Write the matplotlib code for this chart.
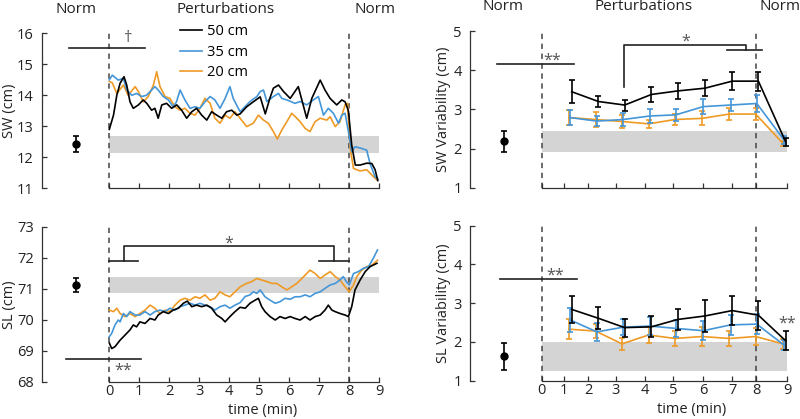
import matplotlib
matplotlib.use("Agg")
import matplotlib.pyplot as plt
import matplotlib.transforms as mtransforms

plt.rcParams['font.family'] = ['Open Sans', 'DejaVu Sans']

# ---------------- data ----------------
labels = ["50 cm", "35 cm", "20 cm"]
colors = ["#000000", "#4496D8", "#EE9A25"]

# SW time series (cm) vs time (min)
sw50_t = [0.0, 0.14, 0.25, 0.36, 0.49, 0.58, 0.69, 0.8, 0.97, 1.13, 1.25, 1.41, 1.52, 1.63, 1.75, 1.91, 2.08, 2.25,
          2.41, 2.58, 2.75, 2.91, 3.08, 3.25, 3.41, 3.58, 3.75, 3.91, 4.08, 4.25, 4.36, 4.58, 4.8, 5.03, 5.2, 5.35,
          5.47, 5.64, 5.81, 6.03, 6.3, 6.58, 6.75, 7.03, 7.19, 7.36, 7.58, 7.75, 7.86, 7.97, 8.08, 8.2, 8.36, 8.58,
          8.75, 8.86, 8.95]
sw50_v = [12.9, 13.36, 14.0, 14.39, 14.6, 14.33, 13.79, 13.58, 13.69, 13.85, 13.74, 13.52, 13.58, 13.26, 13.69,
          13.74, 13.58, 13.69, 13.52, 13.26, 13.47, 13.58, 13.36, 13.2, 13.47, 13.36, 13.26, 13.47, 13.52, 13.36,
          13.4, 13.63, 13.79, 13.95, 13.4, 13.9, 14.23, 14.33, 14.12, 13.9, 14.28, 13.26, 13.9, 14.49, 14.17, 13.9,
          13.69, 13.85, 13.79, 13.5, 12.4, 11.75, 11.75, 11.81, 11.8, 11.6, 11.25]
sw35_t = [0.0, 0.1, 0.3, 0.47, 0.58, 0.75, 0.91, 1.08, 1.24, 1.41, 1.52, 1.63, 1.8, 1.97, 2.13, 2.24, 2.36, 2.52,
          2.69, 2.86, 3.02, 3.19, 3.36, 3.52, 3.69, 3.86, 4.02, 4.13, 4.3, 4.36, 4.69, 4.92, 5.03, 5.14, 5.25, 5.47,
          5.64, 5.75, 5.92, 6.19, 6.36, 6.58, 6.8, 6.97, 7.14, 7.3, 7.47, 7.64, 7.75, 7.86, 7.97, 8.08, 8.19, 8.36,
          8.58, 8.69, 8.86, 8.95]
sw35_v = [14.5, 14.65, 14.49, 14.55, 14.17, 14.0, 14.06, 13.96, 14.0, 14.17, 14.28, 14.17, 13.96, 13.85, 13.63,
          13.79, 14.17, 13.85, 13.58, 13.63, 13.58, 13.79, 13.96, 13.85, 13.58, 13.9, 14.28, 13.9, 13.58, 13.47,
          13.8, 13.96, 14.12, 14.17, 13.8, 13.96, 14.06, 13.9, 13.85, 13.74, 13.8, 13.69, 13.85, 13.96, 13.36,
          13.58, 13.42, 13.1, 13.36, 13.42, 12.83, 12.18, 12.34, 12.3, 12.23, 11.8, 11.37, 11.3]
sw20_t = [0.0, 0.1, 0.25, 0.47, 0.63, 0.86, 0.97, 1.13, 1.3, 1.47, 1.58, 1.69, 1.86, 2.02, 2.19, 2.36, 2.52, 2.69,
          2.86, 3.02, 3.19, 3.36, 3.52, 3.69, 3.86, 4.02, 4.19, 4.36, 4.58, 4.8, 4.97, 5.14, 5.3, 5.47, 5.6, 5.75,
          5.92, 6.08, 6.2, 6.36, 6.53, 6.69, 6.86, 7.03, 7.25, 7.36, 7.53, 7.69, 7.86, 7.94, 8.03, 8.14, 8.36, 8.58,
          8.75, 8.92]
sw20_v = [14.45, 14.4, 14.06, 14.33, 14.0, 14.28, 14.12, 13.79, 13.96, 14.33, 14.76, 14.28, 13.96, 13.9, 13.63,
          13.52, 13.58, 13.42, 13.36, 13.58, 13.9, 13.74, 13.26, 13.1, 13.36, 13.26, 13.47, 13.26, 12.99, 13.1,
          13.36, 13.2, 13.1, 12.83, 12.59, 12.88, 13.15, 13.42, 13.31, 13.15, 12.93, 12.83, 13.15, 13.26, 13.2,
          13.31, 12.99, 13.15, 13.69, 13.74, 12.29, 11.64, 11.56, 11.6, 11.43, 11.27]

# SL time series (cm)
sl50_t = [0.0, 0.08, 0.19, 0.36, 0.52, 0.69, 0.8, 0.91, 1.02, 1.19, 1.36, 1.52, 1.63, 1.8, 1.97, 2.13, 2.3, 2.47,
          2.6, 2.75, 2.91, 3.08, 3.25, 3.41, 3.58, 3.75, 3.86, 4.02, 4.19, 4.36, 4.53, 4.69, 4.86, 4.97, 5.08, 5.19,
          5.36, 5.53, 5.69, 5.86, 6.03, 6.19, 6.36, 6.53, 6.69, 6.86, 7.03, 7.19, 7.3, 7.42, 7.53, 7.69, 7.86, 7.97,
          8.08, 8.19, 8.36, 8.53, 8.69, 8.92]
sl50_v = [69.25, 69.07, 69.13, 69.34, 69.5, 69.67, 69.83, 69.77, 69.93, 69.88, 70.04, 69.99, 70.15, 70.26, 70.2,
          70.31, 70.37, 70.53, 70.6, 70.42, 70.47, 70.42, 70.47, 70.37, 70.15, 70.04, 69.93, 70.1, 70.26, 70.4,
          70.37, 70.53, 70.63, 70.69, 70.42, 70.26, 70.1, 69.99, 70.1, 70.04, 70.1, 70.04, 69.99, 70.1, 69.99, 70.1,
          70.15, 70.31, 70.47, 70.31, 70.26, 70.2, 70.15, 70.1, 70.42, 70.96, 71.28, 71.55, 71.71, 71.82]
sl35_t = [0.0, 0.08, 0.19, 0.3, 0.36, 0.47, 0.58, 0.69, 0.86, 1.02, 1.19, 1.36, 1.52, 1.69, 1.86, 2.02, 2.19, 2.36,
          2.52, 2.69, 2.86, 3.02, 3.19, 3.36, 3.52, 3.69, 3.86, 4.02, 4.19, 4.36, 4.53, 4.69, 4.8, 4.92, 5.03, 5.19,
          5.36, 5.53, 5.69, 5.86, 6.03, 6.19, 6.36, 6.53, 6.69, 6.86, 7.03, 7.19, 7.36, 7.53, 7.69, 7.8, 7.9, 8.0,
          8.14, 8.3, 8.47, 8.64, 8.8, 8.94]
sl35_v = [69.45, 69.56, 69.83, 69.99, 69.93, 70.2, 70.1, 70.26, 70.15, 70.15, 70.26, 70.15, 70.26, 70.31, 70.26,
          70.37, 70.31, 70.42, 70.47, 70.53, 70.47, 70.53, 70.47, 70.42, 70.31, 70.42, 70.47, 70.37, 70.47, 70.55,
          70.75, 70.8, 70.9, 70.85, 70.96, 70.74, 70.63, 70.53, 70.58, 70.69, 70.66, 70.74, 70.74, 70.8, 70.74,
          70.85, 70.9, 71.01, 71.12, 71.17, 71.28, 71.39, 71.23, 71.12, 71.49, 71.55, 71.66, 71.71, 71.98, 72.25]
sl20_t = [0.0, 0.14, 0.25, 0.36, 0.52, 0.69, 0.86, 1.02, 1.19, 1.36, 1.52, 1.69, 1.86, 2.02, 2.19, 2.36, 2.52, 2.69,
          2.86, 3.02, 3.19, 3.36, 3.52, 3.69, 3.86, 4.02, 4.19, 4.36, 4.58, 4.75, 4.92, 5.08, 5.25, 5.42, 5.58, 5.75,
          5.92, 6.08, 6.25, 6.42, 6.58, 6.69, 6.86, 7.03, 7.19, 7.36, 7.53, 7.69, 7.86, 8.0, 8.14, 8.25, 8.42, 8.58,
          8.75, 8.94]
sl20_v = [70.31, 70.26, 70.37, 70.2, 70.1, 70.2, 70.1, 70.2, 70.31, 70.47, 70.37, 70.2, 70.31, 70.26, 70.47, 70.63,
          70.69, 70.63, 70.74, 70.69, 70.8, 70.63, 70.69, 70.9, 70.8, 70.74, 70.9, 71.06, 71.17, 71.23, 71.33, 71.28,
          71.23, 71.17, 71.17, 71.06, 70.96, 71.06, 71.17, 71.33, 71.49, 71.6, 71.49, 71.33, 71.44, 71.55, 71.39,
          71.28, 71.06, 70.9, 71.12, 71.39, 71.6, 71.71, 71.76, 71.92]

# Norm walking (mean, error) and normative bands
norm_sw = (12.43, 0.25)
norm_sl = (71.12, 0.22)
band_sw = (12.15, 12.69)
band_sl = (70.87, 71.37)

# Variability (bins along time axis)
var_x = [1.04, 2.02, 2.98, 3.96, 4.92, 5.92, 6.92, 7.88, 8.88]
swv50 = [3.45, 3.2, 3.11, 3.38, 3.47, 3.54, 3.72, 3.72, 2.17]
swv50_e = [0.3, 0.13, 0.14, 0.19, 0.2, 0.21, 0.23, 0.24, 0.1]
swv35 = [2.79, 2.7, 2.74, 2.83, 2.86, 3.07, 3.11, 3.15, 2.22]
swv35_e = [0.2, 0.13, 0.16, 0.17, 0.15, 0.2, 0.15, 0.21, 0.1]
swv20 = [2.79, 2.74, 2.69, 2.63, 2.74, 2.77, 2.88, 2.88, 2.13]
swv20_e = [0.2, 0.19, 0.16, 0.11, 0.13, 0.18, 0.15, 0.15, 0.06]
slv50 = [2.84, 2.61, 2.37, 2.39, 2.58, 2.67, 2.81, 2.69, 2.03]
slv50_e = [0.35, 0.28, 0.23, 0.27, 0.28, 0.41, 0.37, 0.37, 0.25]
slv35 = [2.57, 2.26, 2.38, 2.41, 2.35, 2.29, 2.44, 2.46, 1.92]
slv35_e = [0.31, 0.23, 0.2, 0.24, 0.22, 0.24, 0.26, 0.25, 0.14]
slv20 = [2.33, 2.28, 1.95, 2.18, 2.09, 2.14, 2.09, 2.14, 1.95]
slv20_e = [0.25, 0.18, 0.15, 0.2, 0.2, 0.25, 0.2, 0.22, 0.13]
norm_swv = (2.18, 0.27)
norm_slv = (1.63, 0.35)
band_swv = (1.9, 2.46)
band_slv = (1.26, 1.99)

# tick positions / labels
left_ticks = [0, 1, 2, 3, 4, 5, 6, 7, 8, 9]
right_ticks = [0, 0.83, 1.7, 2.72, 3.79, 4.82, 5.92, 6.98, 7.87, 9.0]
tick_labels = ["0", "1", "2", "3", "4", "5", "6", "7", "8", "9"]

# ---------------- figure ----------------
W, H = 800, 419
fig = plt.figure(figsize=(W / 100, H / 100), dpi=100)

AX_COL = "#333333"
DASH_COL = "#444444"
BAND_COL = "#D4D4D4"
FS = 10.5


def make_ax(left_px, right_px, top_px, bottom_px, xlim, ylim):
    ax = fig.add_axes([left_px / W, (H - bottom_px) / H, (right_px - left_px) / W, (bottom_px - top_px) / H])
    ax.set_xlim(*xlim)
    ax.set_ylim(*ylim)
    for s in ["top", "right"]:
        ax.spines[s].set_visible(False)
    ax.spines["left"].set_bounds(*ylim)
    ax.spines["bottom"].set_bounds(0, 9)
    for s in ["left", "bottom"]:
        ax.spines[s].set_color(AX_COL)
        ax.spines[s].set_linewidth(0.9)
    ax.tick_params(direction="in", length=3.5, width=0.9, color=AX_COL, labelcolor="#222222",
                   labelsize=FS)
    ax.tick_params(axis="y", pad=6)
    ax.tick_params(axis="x", pad=2)
    ax.patch.set_alpha(0)
    return ax


# Left panels: 0 at 109.3 px, 30 px/min
lx0, lsc = 109.3, 30.0
l_left, l_right = 42, lx0 + 9.05 * lsc
l_xlim = ((l_left - lx0) / lsc, 9.05)
ax1 = make_ax(l_left, l_right, 33.3, 188.3, l_xlim, (11, 16))
ax2 = make_ax(l_left, l_right, 226.7, 381.7, l_xlim, (68, 73))
# Right panels: 0 at 541.7 px, 27.29 px/unit
rx0, rsc = 541.7, 27.29
r_left, r_right = 470, rx0 + 9.05 * rsc
r_xlim = ((r_left - rx0) / rsc, 9.05)
ax3 = make_ax(r_left, r_right, 31.0, 187.7, r_xlim, (1, 5))
ax4 = make_ax(r_left, r_right, 225.7, 380.7, r_xlim, (1, 5))

for ax in (ax1, ax2):
    ax.set_xticks(left_ticks)
    ax.set_yticks(range(int(ax.get_ylim()[0]), int(ax.get_ylim()[1]) + 1))
for ax in (ax3, ax4):
    ax.set_xticks(right_ticks)
    ax.set_yticks([1, 2, 3, 4, 5])
ax1.set_xticklabels([])
ax3.set_xticklabels([])
ax2.set_xticklabels(tick_labels)
ax4.set_xticklabels(tick_labels)

ax1.set_ylabel("SW (cm)", fontsize=FS, color="#222222")
ax2.set_ylabel("SL (cm)", fontsize=FS, color="#222222")
ax3.set_ylabel("SW Variability (cm)", fontsize=FS, color="#222222")
ax4.set_ylabel("SL Variability (cm)", fontsize=FS, color="#222222")
for ax in (ax1, ax2):
    ax.yaxis.set_label_coords((17 - l_left) / (l_right - l_left), 0.5)
for ax in (ax3, ax4):
    ax.yaxis.set_label_coords((451 - r_left) / (r_right - r_left), 0.5)
ax2.set_xlabel("time (min)", fontsize=FS, color="#222222", labelpad=0)
ax4.set_xlabel("time (min)", fontsize=FS, color="#222222", labelpad=0)
ax2.xaxis.set_label_coords((5.1 - l_xlim[0]) / (l_xlim[1] - l_xlim[0]), -0.14)
ax4.xaxis.set_label_coords((5.5 - r_xlim[0]) / (r_xlim[1] - r_xlim[0]), -0.14)


# bands, dashed lines, norm markers
def common(ax, band, dash_x, norm, norm_x):
    ax.fill_between([0, 9], band[0], band[1], color=BAND_COL, lw=0, zorder=0)
    y0, y1 = ax.get_ylim()
    for dx in dash_x:
        ax.plot([dx, dx], [y0, y1], ls=(0, (3.5, 3)), color=DASH_COL, lw=1.1, zorder=1)
    ax.errorbar([norm_x], [norm[0]], yerr=[norm[1]], fmt="o", color="black", ms=5, capsize=2.5,
                elinewidth=1.2, capthick=1.2, zorder=5)


common(ax1, band_sw, [0, 8], norm_sw, -1.12)
common(ax2, band_sl, [0, 8], norm_sl, -1.1)
common(ax3, band_swv, [0, 7.87], norm_swv, -1.38)
common(ax4, band_slv, [0, 7.87], norm_slv, -1.38)

# time series (black on top)
sw_series = [(sw50_t, sw50_v), (sw35_t, sw35_v), (sw20_t, sw20_v)]
sl_series = [(sl50_t, sl50_v), (sl35_t, sl35_v), (sl20_t, sl20_v)]
zord = [4, 3, 2]
handles = []
for (t, v), c, lab, z in zip(sw_series, colors, labels, zord):
    h, = ax1.plot(t, v, color=c, lw=1.2, label=lab, zorder=z)
    handles.append(h)
for (t, v), c, z in zip(sl_series, colors, zord):
    ax2.plot(t, v, color=c, lw=1.2, zorder=z)

leg = ax1.legend(handles=handles, loc="upper left",
                 bbox_to_anchor=((2.15 - l_xlim[0]) / (l_xlim[1] - l_xlim[0]), 1.095),
                 frameon=False, fontsize=FS, handlelength=1.55, handletextpad=0.35,
                 labelspacing=0.38, borderaxespad=0)

# variability plots
dodge = [0.06, 0.0, -0.04]
for ax, ys, es in ((ax3, [swv50, swv35, swv20], [swv50_e, swv35_e, swv20_e]),
                   (ax4, [slv50, slv35, slv20], [slv50_e, slv35_e, slv20_e])):
    for y, e, c, d, z in zip(ys, es, colors, dodge, zord):
        ax.errorbar([x + d for x in var_x], y, yerr=e, color=c, lw=1.2, capsize=2.2,
                    elinewidth=1.2, capthick=1.2, zorder=z)

# significance annotations
SIG = "#222222"
STAR = "#555555"
ax1.plot([-1.33, 1.19], [15.54, 15.54], color=SIG, lw=1.2)
ax1.text(0.63, 15.58, "\u2020", ha="center", va="bottom", fontsize=FS + 1.5, color=STAR)

ax2.plot([-1.46, 1.04], [68.74, 68.74], color=SIG, lw=1.2)
ax2.text(0.45, 68.36, "**", ha="center", va="center", fontsize=FS + 1, color=STAR)
ax2.plot([0, 0.97], [71.9, 71.9], color=SIG, lw=1.2)
ax2.plot([7.0, 8.0], [71.9, 71.9], color=SIG, lw=1.2)
ax2.plot([0.5, 0.5, 7.5, 7.5], [71.9, 72.38, 72.38, 71.9], color=SIG, lw=1.2)
ax2.text(3.97, 72.46, "*", ha="center", va="center", fontsize=FS + 1, color=STAR)

ax3.plot([-1.62, 1.19], [4.16, 4.16], color=SIG, lw=1.2)
ax3.text(0.37, 4.25, "**", ha="center", va="center", fontsize=FS + 1, color=STAR)
ax3.plot([3.02, 3.02, 7.5, 7.5], [3.56, 4.64, 4.64, 4.51], color=SIG, lw=1.2)
ax3.plot([6.79, 8.08], [4.51, 4.51], color=SIG, lw=1.2)
ax3.text(5.26, 4.74, "*", ha="center", va="center", fontsize=FS + 1, color=STAR)

ax4.plot([-1.53, 1.29], [3.62, 3.62], color=SIG, lw=1.2)
ax4.text(0.49, 3.7, "**", ha="center", va="center", fontsize=FS + 1, color=STAR)
ax4.text(9.0, 2.48, "**", ha="center", va="center", fontsize=FS + 1, color=STAR)

# phase headers
for ax, xs in ((ax1, [-1.12, 3.88, 8.85]), (ax3, [-1.4, 3.75, 8.74])):
    tr = mtransforms.blended_transform_factory(ax.transData, ax.transAxes)
    for x, s in zip(xs, ["Norm", "Perturbations", "Norm"]):
        ax.text(x, 1.155, s, transform=tr, ha="center", va="center", fontsize=FS + 0.5,
                color="#222222", clip_on=False)

fig.savefig("out.png", dpi=100)
